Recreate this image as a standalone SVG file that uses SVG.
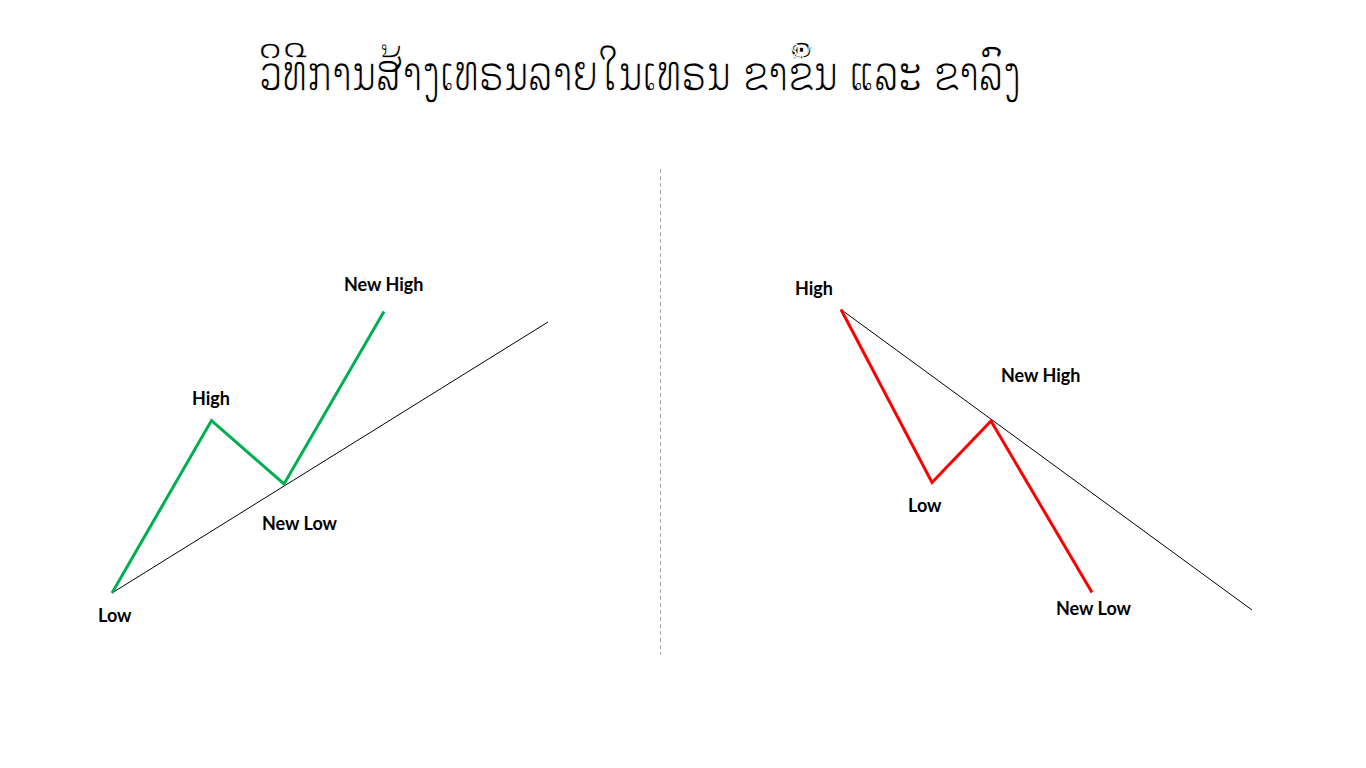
<svg xmlns="http://www.w3.org/2000/svg" width="1366" height="768" viewBox="0 0 1366 768">
<style>
.lbl{font-family:Lato,"Open Sans","Liberation Sans",sans-serif;font-weight:bold;font-size:18px;fill:#000}
.trend{fill:none;stroke:#000;stroke-width:1}
.up{fill:none;stroke:#00b050;stroke-width:3;stroke-linejoin:miter}
.down{fill:none;stroke:#ff0000;stroke-width:3;stroke-linejoin:miter}
</style>
<rect width="1366" height="768" fill="#fff"/>
<g id="title">
<text x="259" y="91" font-family="'DejaVu Sans','Noto Sans',sans-serif" font-size="52" font-weight="normal" textLength="762" lengthAdjust="spacingAndGlyphs" fill="#000" stroke="#fff" stroke-width="1.5" paint-order="fill">ວິທີການສ້າງເທຣນລາຍໃນເທຣນ ຂາຂຶ້ນ ແລະ ຂາລົງ</text>
</g>
<g id="divider">
<line x1="660.5" y1="169" x2="660.5" y2="655" stroke="#a6a6a6" stroke-width="1" stroke-dasharray="4,3"/>
</g>
<g id="connectors">
<line class="trend" x1="112" y1="593" x2="548" y2="322"/>
<polyline class="up" points="112,593 211.5,420.5 284,484 384,311.5"/>
<line class="trend" x1="841" y1="309.5" x2="1252" y2="610"/>
<polyline class="down" points="841,309.5 932,482.5 991,421 1092,592.5"/>
</g>
<g id="up-low"><text class="lbl" x="98" y="622">Low</text></g>
<g id="up-high"><text class="lbl" x="192" y="405">High</text></g>
<g id="up-newlow"><text class="lbl" x="262" y="530">New Low</text></g>
<g id="up-newhigh"><text class="lbl" x="344" y="291">New High</text></g>
<g id="down-high"><text class="lbl" x="795" y="295">High</text></g>
<g id="down-low"><text class="lbl" x="908" y="512">Low</text></g>
<g id="down-newhigh"><text class="lbl" x="1001" y="382">New High</text></g>
<g id="down-newlow"><text class="lbl" x="1056" y="615">New Low</text></g>
</svg>
